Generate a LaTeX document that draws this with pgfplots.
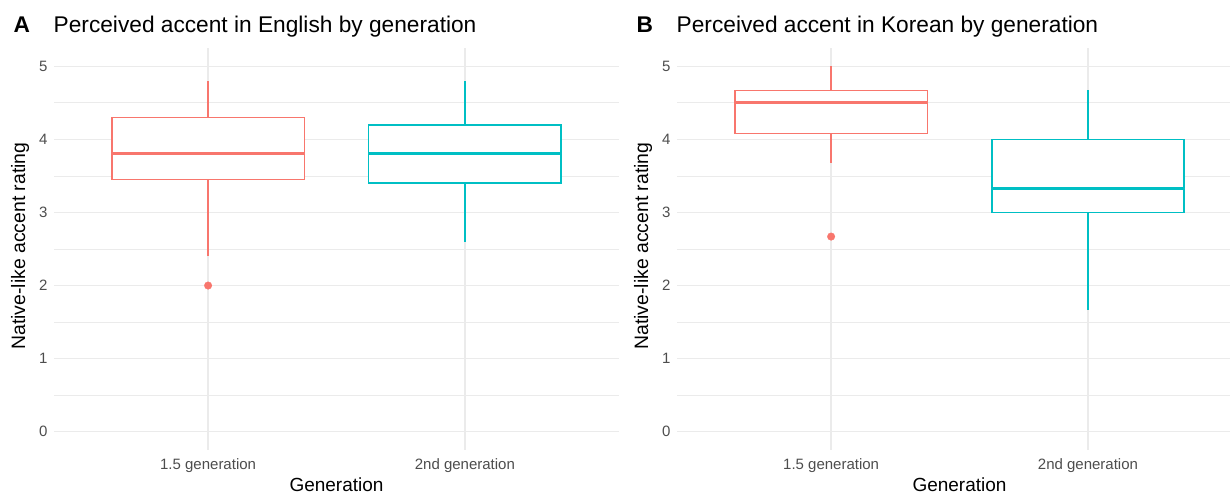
\documentclass[border=0pt]{standalone}
\usepackage{pgfplots}
\pgfplotsset{compat=1.18}
\usepgfplotslibrary{statistics}
\usepackage{fontspec}
\setmainfont{Liberation Sans}
\definecolor{colA}{HTML}{F8766D}
\definecolor{colB}{HTML}{00BFC4}
\definecolor{gridgray}{HTML}{EBEBEB}
\definecolor{tickgray}{HTML}{4D4D4D}
\pgfplotsset{
  panel/.style={
    anchor=south west, scale only axis,
    height=402bp,
    ymin=-0.25, ymax=5.25, xmin=0.4,
    ytick={0,1,2,3,4,5}, minor y tick num=1,
    xtick={1,2}, xticklabels={1.5 generation, 2nd generation},
    xmajorgrids, ymajorgrids, yminorgrids,
    major grid style={draw=gridgray, line width=1.3bp},
    minor grid style={draw=gridgray, line width=0.8bp},
    axis line style={draw=none},
    tick style={draw=none},
    major tick length=0pt, minor tick length=0pt,
    /pgf/number format/assume math mode=true,
    tick label style={font=\fontsize{15bp}{15bp}\selectfont, text=tickgray},
    yticklabel style={xshift=-3bp},
    xticklabel style={yshift=-5bp},
    clip=true,
  },
  bxopts/.style={boxplot/draw direction=y, boxplot/box extend=0.75, boxplot/whisker extend=0,
    boxplot/every median/.style={line width=3bp},
    boxplot/every box/.style={line width=1.7bp},
    boxplot/every whisker/.style={line width=1.4bp}},
}
\begin{document}
\begin{tikzpicture}
\path[use as bounding box] (0bp,0bp) rectangle (1230bp,494bp);
% Panel A
\begin{axis}[panel, at={(54bp,44bp)}, width=565bp, xmax=2.6]
\addplot+[bxopts, boxplot prepared={draw direction=y, lower whisker=2.4, lower quartile=3.45, median=3.8, upper quartile=4.3, upper whisker=4.8, draw position=1, box extend=0.75, whisker extend=0},
  solid, line width=1.7bp, fill=white, draw=colA, mark=*, mark size=3.8bp, mark options={fill=colA, draw=colA, line width=0.3bp}]
  table[row sep=\\, y index=0] {data\\ 2.0\\};
\addplot+[bxopts, boxplot prepared={draw direction=y, lower whisker=2.6, lower quartile=3.4, median=3.8, upper quartile=4.2, upper whisker=4.8, draw position=2, box extend=0.75, whisker extend=0},
  solid, line width=1.7bp, fill=white, draw=colB, mark=none]
  coordinates {};
\end{axis}
% Panel B
\begin{axis}[panel, at={(677bp,44bp)}, width=553bp, xmax=2.553]
\addplot+[bxopts, boxplot prepared={draw direction=y, lower whisker=3.67, lower quartile=4.08, median=4.5, upper quartile=4.67, upper whisker=5.0, draw position=1, box extend=0.75, whisker extend=0},
  solid, line width=1.7bp, fill=white, draw=colA, mark=*, mark size=3.8bp, mark options={fill=colA, draw=colA, line width=0.3bp}]
  table[row sep=\\, y index=0] {data\\ 2.67\\};
\addplot+[bxopts, boxplot prepared={draw direction=y, lower whisker=1.67, lower quartile=3.0, median=3.33, upper quartile=4.0, upper whisker=4.67, draw position=2, box extend=0.75, whisker extend=0},
  solid, line width=1.7bp, fill=white, draw=colB, mark=none]
  coordinates {};
\end{axis}
% Titles
\node[anchor=base west, inner sep=0, font=\fontsize{22.7bp}{22.7bp}\selectfont\bfseries] at (13.5bp,461bp) {A};
\node[anchor=base west, inner sep=0, font=\fontsize{22.7bp}{22.7bp}\selectfont] at (53.5bp,461bp) {Perceived accent in English by generation};
\node[anchor=base west, inner sep=0, font=\fontsize{22.7bp}{22.7bp}\selectfont\bfseries] at (636.5bp,461bp) {B};
\node[anchor=base west, inner sep=0, font=\fontsize{22.7bp}{22.7bp}\selectfont] at (676.5bp,461bp) {Perceived accent in Korean by generation};
% Axis titles
\node[anchor=base, inner sep=0, font=\fontsize{19bp}{19bp}\selectfont] at (336.5bp,3bp) {Generation};
\node[anchor=base, inner sep=0, font=\fontsize{19bp}{19bp}\selectfont] at (959.5bp,3bp) {Generation};
\node[anchor=base, rotate=90, inner sep=0, font=\fontsize{19.4bp}{19.4bp}\selectfont] at (25bp,248bp) {Native-like accent rating};
\node[anchor=base, rotate=90, inner sep=0, font=\fontsize{19.4bp}{19.4bp}\selectfont] at (648bp,248bp) {Native-like accent rating};
\end{tikzpicture}
\end{document}
